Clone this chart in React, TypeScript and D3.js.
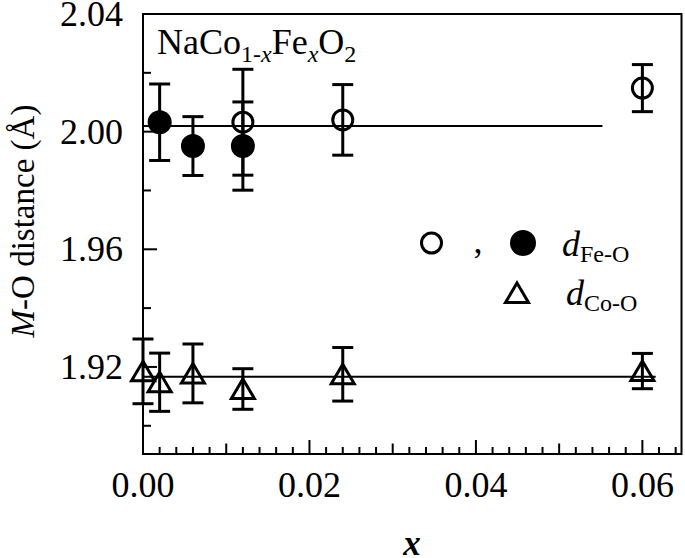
import React from "react";
import * as d3 from "d3";

// ---- data ----
const xFeOpen = [0.012, 0.024, 0.06];
const yFeOpen = [2.0032, 2.004, 2.0148];
const eFeOpen = [0.018, 0.012, 0.008];

const xFeFilled = [0.002, 0.006, 0.012];
const yFeFilled = [2.0032, 1.9951, 1.9951];
const eFeFilled = [0.013, 0.01, 0.015];

const xCo = [0, 0.002, 0.006, 0.012, 0.024, 0.06];
const yCo = [1.9185, 1.9148, 1.9178, 1.9125, 1.9175, 1.9186];
const eCo = [0.011, 0.0099, 0.01, 0.0069, 0.0091, 0.006];

const feFitX = [0, 0.0552];
const feFitY = [2.0019, 2.0019];
const coFitX = [0, 0.0616];
const coFitY = [1.9167, 1.9167];

const xTickValues = [0, 0.02, 0.04, 0.06];
const xTickLabels = ["0.00", "0.02", "0.04", "0.06"];
const yTickValues = [1.92, 1.96, 2.0, 2.04];
const yTickLabels = ["1.92", "1.96", "2.00", "2.04"];

const W = 685;
const H = 558;
const FONT = "'Liberation Serif', 'Times New Roman', serif";

export default function App() {
  const left = 143, right = 681.5, top = 14, bottom = 454;
  const x = d3.scaleLinear().domain([0, 0.0647]).range([left, right]);
  const y = d3.scaleLinear().domain([1.8904, 2.04]).range([bottom, top]);

  const xMinor = d3.range(0, 0.0647, 0.002);
  const yMinor = d3.range(1.9, 2.0401, 0.02);

  const line = d3.line<[number, number]>().x(d => x(d[0])).y(d => y(d[1]));

  const errBar = (xs: number[], ys: number[], es: number[], key: string) =>
    xs.map((xv, i) => {
      const cx = x(xv);
      const y1 = y(ys[i] + es[i]);
      const y2 = y(ys[i] - es[i]);
      return (
        <g key={key + i} stroke="#000" strokeWidth={3}>
          <line x1={cx} x2={cx} y1={y1} y2={y2} />
          <line x1={cx - 10.5} x2={cx + 10.5} y1={y1} y2={y1} />
          <line x1={cx - 10.5} x2={cx + 10.5} y1={y2} y2={y2} />
        </g>
      );
    });

  const tri = (cx: number, cy: number) =>
    `M${cx},${cy - 10} L${cx + 11.5},${cy + 9.5} L${cx - 11.5},${cy + 9.5} Z`;

  return (
    <svg width={W} height={H} style={{ position: "absolute", left: 0, top: 0, background: "#fff" }}
      fontFamily={FONT}>
      <rect x={0} y={0} width={W} height={H} fill="#fff" />
      {/* frame */}
      <rect x={left} y={top} width={right - left} height={bottom - top} fill="none" stroke="#000" strokeWidth={2} />

      {/* x ticks */}
      {xMinor.map((v, i) => {
        const r = Math.round(v * 1000) / 1000;
        const isMajor = Math.abs(r / 0.02 - Math.round(r / 0.02)) < 1e-6;
        const isMid = !isMajor && Math.abs(r / 0.01 - Math.round(r / 0.01)) < 1e-6;
        const len = isMajor ? 14 : isMid ? 10.5 : 7;
        return <line key={"xt" + i} x1={x(v)} x2={x(v)} y1={bottom} y2={bottom - len} stroke="#000" strokeWidth={2} />;
      })}
      {xTickValues.map((v, i) => (
        <text key={"xl" + i} x={x(v)} y={497} fontSize={36} textAnchor="middle">{xTickLabels[i]}</text>
      ))}

      {/* y ticks */}
      {yMinor.map((v, i) => {
        const r = Math.round(v * 100) / 100;
        const isMajor = Math.abs(r / 0.04 - Math.round(r / 0.04)) < 1e-6;
        const len = isMajor ? 14 : 8;
        return <line key={"yt" + i} x1={left} x2={left + len} y1={y(v)} y2={y(v)} stroke="#000" strokeWidth={2} />;
      })}
      {yTickValues.map((v, i) => (
        <text key={"yl" + i} x={123} y={y(v) + 12} fontSize={36} textAnchor="end">{yTickLabels[i]}</text>
      ))}

      {/* axis titles */}
      <text x={412} y={555} fontSize={35} fontWeight="bold" fontStyle="italic" textAnchor="middle">x</text>
      <text transform={`translate(34,221) rotate(-90)`} fontSize={33} textAnchor="middle">
        <tspan fontStyle="italic">M</tspan>
        <tspan>-O distance (Å)</tspan>
      </text>

      {/* compound label */}
      <text x={157} y={54} fontSize={36}>
        <tspan>NaCo</tspan>
        <tspan fontSize={24} dy={8}>1-</tspan>
        <tspan fontSize={24} fontStyle="italic">x</tspan>
        <tspan dy={-8}>Fe</tspan>
        <tspan fontSize={24} fontStyle="italic" dy={8}>x</tspan>
        <tspan dy={-8}>O</tspan>
        <tspan fontSize={24} dy={8}>2</tspan>
      </text>

      {/* fit lines */}
      <path d={line(feFitX.map((v, i) => [v, feFitY[i]]) as any) || ""} stroke="#000" strokeWidth={2} fill="none" />
      <path d={line(coFitX.map((v, i) => [v, coFitY[i]]) as any) || ""} stroke="#000" strokeWidth={2} fill="none" />

      {/* error bars */}
      {errBar(xFeOpen, yFeOpen, eFeOpen, "eo")}
      {errBar(xFeFilled, yFeFilled, eFeFilled, "ef")}
      {errBar(xCo, yCo, eCo, "ec")}

      {/* markers */}
      {xFeOpen.map((v, i) => (
        <circle key={"mo" + i} cx={x(v)} cy={y(yFeOpen[i])} r={10} fill="none" stroke="#000" strokeWidth={3} />
      ))}
      {xFeFilled.map((v, i) => (
        <circle key={"mf" + i} cx={x(v)} cy={y(yFeFilled[i])} r={12} fill="#000" />
      ))}
      {xCo.map((v, i) => (
        <path key={"mc" + i} d={tri(x(v), y(yCo[i]))} fill="none" stroke="#000" strokeWidth={3} strokeLinejoin="miter" />
      ))}

      {/* legend */}
      <circle cx={431.5} cy={243} r={10} fill="none" stroke="#000" strokeWidth={3} />
      <text x={478} y={253} fontSize={36} textAnchor="middle">,</text>
      <circle cx={523} cy={243} r={13} fill="#000" />
      <text x={562} y={256} fontSize={36}>
        <tspan fontStyle="italic">d</tspan>
        <tspan fontSize={24} dy={6}>Fe-O</tspan>
      </text>
      <path d={tri(517, 293)} fill="none" stroke="#000" strokeWidth={3} />
      <text x={566} y={305} fontSize={36}>
        <tspan fontStyle="italic">d</tspan>
        <tspan fontSize={24} dy={6}>Co-O</tspan>
      </text>
    </svg>
  );
}
